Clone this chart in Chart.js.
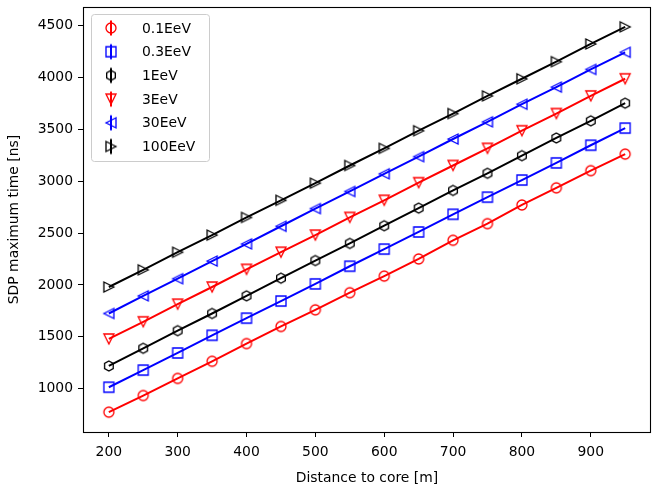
<!DOCTYPE html>
<html>
<head>
<meta charset="utf-8">
<script src="https://cdn.jsdelivr.net/npm/chart.js@4/dist/chart.umd.min.js"></script>
<style>
html,body{margin:0;padding:0;background:#fff;}
canvas{display:block;}
</style>
</head>
<body>
<canvas id="c" width="652" height="487"></canvas>
<script>
const distances = [200,250,300,350,400,450,500,550,600,650,700,750,800,850,900,950];
const seriesNames = ['0.1EeV','0.3EeV','1EeV','3EeV','30EeV','100EeV'];
const t01 = [775, 935, 1100, 1265, 1435, 1600, 1760, 1925, 2085, 2250, 2430, 2590, 2770, 2935, 3100, 3260];
const t03 = [1015, 1180, 1345, 1515, 1680, 1845, 2010, 2180, 2345, 2510, 2680, 2845, 3010, 3175, 3345, 3510];
const t1 = [1220, 1390, 1560, 1725, 1895, 2065, 2235, 2400, 2570, 2740, 2910, 3075, 3245, 3415, 3580, 3750];
const t3 = [1480, 1645, 1815, 1980, 2150, 2315, 2480, 2650, 2815, 2985, 3150, 3315, 3485, 3650, 3820, 3985];
const t30 = [1725, 1895, 2060, 2230, 2395, 2565, 2735, 2900, 3070, 3235, 3405, 3570, 3740, 3905, 4075, 4240];
const t100 = [1980, 2145, 2315, 2480, 2650, 2815, 2980, 3150, 3315, 3485, 3650, 3820, 3985, 4150, 4320, 4485];
const xTicks = [200,300,400,500,600,700,800,900];
const yTicks = [1000,1500,2000,2500,3000,3500,4000,4500];

const seriesValues = [t01, t03, t1, t3, t30, t100];
const colors = ['#ff0000','#0000ff','#000000','#ff0000','#0000ff','#000000'];
const shapes = ['circle','square','hexagon','tri_down','tri_left','tri_right'];

const FONT = 'DejaVu Sans';
const FS = 13.9;

function markerCanvas(shape, color, bar) {
  const W = 22, H = 22;
  const cv = document.createElement('canvas');
  cv.width = W; cv.height = H;
  const ctx = cv.getContext('2d');
  const cx = W/2, cy = H/2, h = 5;
  ctx.strokeStyle = color;
  ctx.lineWidth = 1.33;
  if (bar) {
    ctx.save();
    ctx.lineWidth = 2;
    ctx.beginPath();
    ctx.moveTo(cx, cy - 7.5); ctx.lineTo(cx, cy + 7.5);
    ctx.stroke();
    ctx.restore();
  }
  ctx.beginPath();
  if (shape === 'circle') {
    ctx.arc(cx, cy, h, 0, Math.PI*2);
  } else if (shape === 'square') {
    ctx.rect(cx - h, cy - h, 2*h, 2*h);
  } else if (shape === 'hexagon') {
    for (let i = 0; i < 6; i++) {
      const a = -Math.PI/2 + i*Math.PI/3;
      const px = cx + h*Math.cos(a), py = cy + h*Math.sin(a);
      if (i === 0) ctx.moveTo(px, py); else ctx.lineTo(px, py);
    }
    ctx.closePath();
  } else if (shape === 'tri_down') {
    ctx.moveTo(cx, cy + h); ctx.lineTo(cx - h, cy - h); ctx.lineTo(cx + h, cy - h); ctx.closePath();
  } else if (shape === 'tri_left') {
    ctx.moveTo(cx - h, cy); ctx.lineTo(cx + h, cy - h); ctx.lineTo(cx + h, cy + h); ctx.closePath();
  } else if (shape === 'tri_right') {
    ctx.moveTo(cx + h, cy); ctx.lineTo(cx - h, cy - h); ctx.lineTo(cx - h, cy + h); ctx.closePath();
  }
  ctx.stroke();
  return cv;
}

const datasets = seriesNames.map((name, i) => ({
  label: name,
  data: distances.map((d, j) => ({x: d, y: seriesValues[i][j]})),
  borderColor: colors[i],
  backgroundColor: 'transparent',
  borderWidth: 2,
  showLine: true,
  pointStyle: markerCanvas(shapes[i], colors[i], false),
  pointRadius: 5,
  pointHoverRadius: 5,
  tension: 0,
  clip: false
}));

const legendMarkers = seriesNames.map((n, i) => markerCanvas(shapes[i], colors[i], true));

const framePlugin = {
  id: 'frame',
  afterDatasetsDraw(chart) {
    const {ctx, chartArea: a} = chart;
    ctx.save();
    ctx.strokeStyle = '#000';
    ctx.lineWidth = 1.1;
    ctx.strokeRect(Math.round(a.left)+0.5, Math.round(a.top)+0.5, Math.round(a.right - a.left)-1, Math.round(a.bottom - a.top));
    // legend
    const bx = 91.5, by = 14.5, bw = 118, bh = 147, r = 3;
    ctx.beginPath();
    ctx.moveTo(bx + r, by);
    ctx.lineTo(bx + bw - r, by); ctx.quadraticCurveTo(bx + bw, by, bx + bw, by + r);
    ctx.lineTo(bx + bw, by + bh - r); ctx.quadraticCurveTo(bx + bw, by + bh, bx + bw - r, by + bh);
    ctx.lineTo(bx + r, by + bh); ctx.quadraticCurveTo(bx, by + bh, bx, by + bh - r);
    ctx.lineTo(bx, by + r); ctx.quadraticCurveTo(bx, by, bx + r, by);
    ctx.closePath();
    ctx.fillStyle = 'rgba(255,255,255,0.8)';
    ctx.fill();
    ctx.strokeStyle = '#cccccc';
    ctx.lineWidth = 1;
    ctx.stroke();
    ctx.font = FS + 'px "' + FONT + '"';
    ctx.fillStyle = '#000';
    ctx.textBaseline = 'middle';
    ctx.textAlign = 'left';
    seriesNames.forEach((n, i) => {
      const y = 28 + i*23.7;
      ctx.drawImage(legendMarkers[i], 111 - 11, y - 11);
      ctx.fillText(n, 142, y + 1);
    });
    ctx.restore();
  }
};

function zeroPad(scale) {
  scale.paddingTop = 0; scale.paddingBottom = 0; scale.paddingLeft = 0; scale.paddingRight = 0;
}

new Chart(document.getElementById('c'), {
  type: 'scatter',
  data: { datasets },
  options: {
    responsive: false,
    animation: false,
    devicePixelRatio: 1,
    layout: { autoPadding: false, padding: { top: 7, right: 1, left: 0, bottom: 0 } },
    plugins: { legend: { display: false }, tooltip: { enabled: false } },
    scales: {
      x: {
        type: 'linear',
        min: 162.5, max: 987.5,
        afterBuildTicks(scale) { scale.ticks = xTicks.map(v => ({value: v})); },
        afterFit(scale) { scale.height = 55; zeroPad(scale); },
        grid: { display: true, drawOnChartArea: false, drawTicks: true, tickLength: 5, color: '#000', lineWidth: 1 },
        border: { display: false },
        ticks: { color: '#000', padding: 7, font: { family: FONT, size: FS }, maxRotation: 0, autoSkip: false, callback: v => String(v) },
        title: { display: true, text: 'Distance to core [m]', color: '#000', font: { family: FONT, size: FS }, padding: { top: 0, bottom: 0 } }
      },
      y: {
        type: 'linear',
        min: 584, max: 4676,
        afterBuildTicks(scale) { scale.ticks = yTicks.map(v => ({value: v})); },
        afterFit(scale) { scale.width = 83; zeroPad(scale); },
        grid: { display: true, drawOnChartArea: false, drawTicks: true, tickLength: 5, color: '#000', lineWidth: 1 },
        border: { display: false },
        ticks: { color: '#000', padding: 5, font: { family: FONT, size: FS }, autoSkip: false, callback: v => String(v) },
        title: { display: true, text: 'SDP maximum time [ns]', color: '#000', font: { family: FONT, size: FS }, padding: { top: 6, bottom: 0 } }
      }
    }
  },
  plugins: [framePlugin]
});
</script>
</body>
</html>
